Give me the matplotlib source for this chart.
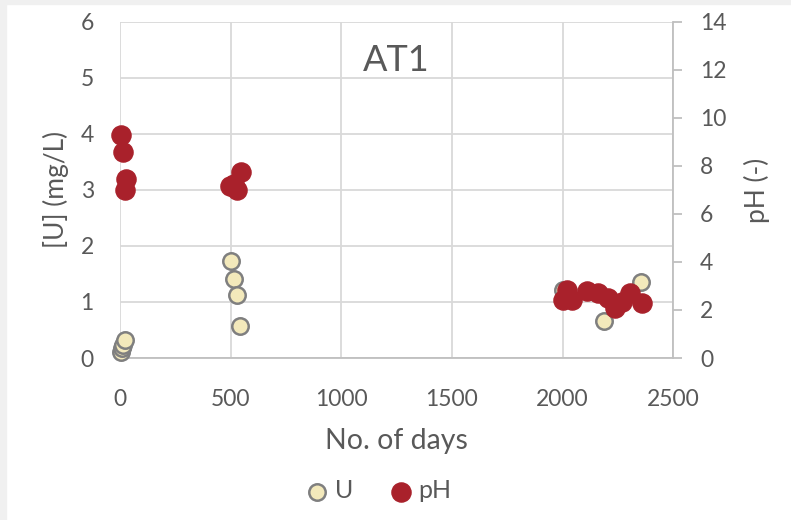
import matplotlib
matplotlib.use('Agg')
import matplotlib.pyplot as plt
from matplotlib.patches import Rectangle

plt.rcParams['font.family'] = ['Lato', 'DejaVu Sans']

GREY_TXT = '#595959'
GRID = '#d9d9d9'
U_FACE = '#f3e9bb'
U_EDGE = '#7f7f7f'
PH_RED = '#a9212b'

# uranium concentration, mg/L
u_days = [3, 8, 12, 20, 502, 515, 529, 542, 2003, 2188, 2355]
u_vals = [0.10, 0.18, 0.24, 0.32, 1.73, 1.41, 1.12, 0.57, 1.22, 0.66, 1.36]

# pH
ph_days = [5, 14, 27, 23, 497, 515, 529, 545,
           2003, 2021, 2043, 2111, 2161, 2206, 2238, 2269, 2306, 2360]
ph_vals = [9.29, 8.58, 7.46, 7.0, 7.15, 7.25, 7.0, 7.75,
           2.42, 2.83, 2.42, 2.8, 2.7, 2.5, 2.1, 2.33, 2.7, 2.3]

fig = plt.figure(figsize=(7.91, 5.2), dpi=100)
fig.patch.set_facecolor('white')
# light frame strips on top and left edges
fig.patches.append(Rectangle((0, 0.992), 1, 0.008, transform=fig.transFigure,
                             color='#f0f0f0', zorder=0))
fig.patches.append(Rectangle((0, 0), 0.0075, 1, transform=fig.transFigure,
                             color='#f0f0f0', zorder=0))

ax = fig.add_axes([0.152, 0.3115, 0.699, 0.6465])
ax2 = ax.twinx()

ax.set_xlim(0, 2500)
ax.set_ylim(0, 6)
ax2.set_ylim(0, 14)
ax.set_xticks(range(0, 2501, 500))
ax.set_yticks(range(0, 7))
ax2.set_yticks(range(0, 15, 2))

ax.grid(True, color=GRID, linewidth=1.3)
ax.set_axisbelow(True)
for a in (ax, ax2):
    for s in a.spines.values():
        s.set_visible(False)
ax.spines['bottom'].set_visible(True)
ax.spines['bottom'].set_color('#bfbfbf')
ax.spines['bottom'].set_linewidth(1.3)
ax2.spines['right'].set_visible(True)
ax2.spines['right'].set_color('#bfbfbf')
ax2.spines['right'].set_linewidth(1.3)

ax.tick_params(axis='x', length=0, labelsize=16.5, labelcolor=GREY_TXT, pad=22)
ax.tick_params(axis='y', length=0, labelsize=16.5, labelcolor=GREY_TXT, pad=19)
ax2.tick_params(axis='y', length=6.5, width=1.3, color='#bfbfbf',
                labelsize=16.5, labelcolor=GREY_TXT, pad=13)

ax.scatter(u_days, u_vals, s=140, facecolor=U_FACE, edgecolor=U_EDGE,
           linewidth=1.8, zorder=3, label='U', clip_on=False)
ax2.scatter(ph_days, ph_vals, s=190, color=PH_RED, zorder=4, label='pH',
            clip_on=False)

ax.set_xlabel('No. of days', fontsize=20.5, color=GREY_TXT, labelpad=13)
ax.set_ylabel('[U] (mg/L)', fontsize=19, color=GREY_TXT, labelpad=8)
ax2.set_ylabel('pH (-)', fontsize=19, color=GREY_TXT, labelpad=12)

ax.text(0.5, 0.885, 'AT1', transform=ax.transAxes, ha='center', va='center',
        fontsize=26, color=GREY_TXT)

h1, l1 = ax.get_legend_handles_labels()
h2, l2 = ax2.get_legend_handles_labels()
fig.legend(h1 + h2, l1 + l2, loc='center', bbox_to_anchor=(0.47, 0.056),
           ncol=2, frameon=False, fontsize=18, labelcolor=GREY_TXT,
           handletextpad=-0.3, columnspacing=0.9, markerscale=1.0)

fig.savefig('out.png', dpi=100, facecolor='white')
